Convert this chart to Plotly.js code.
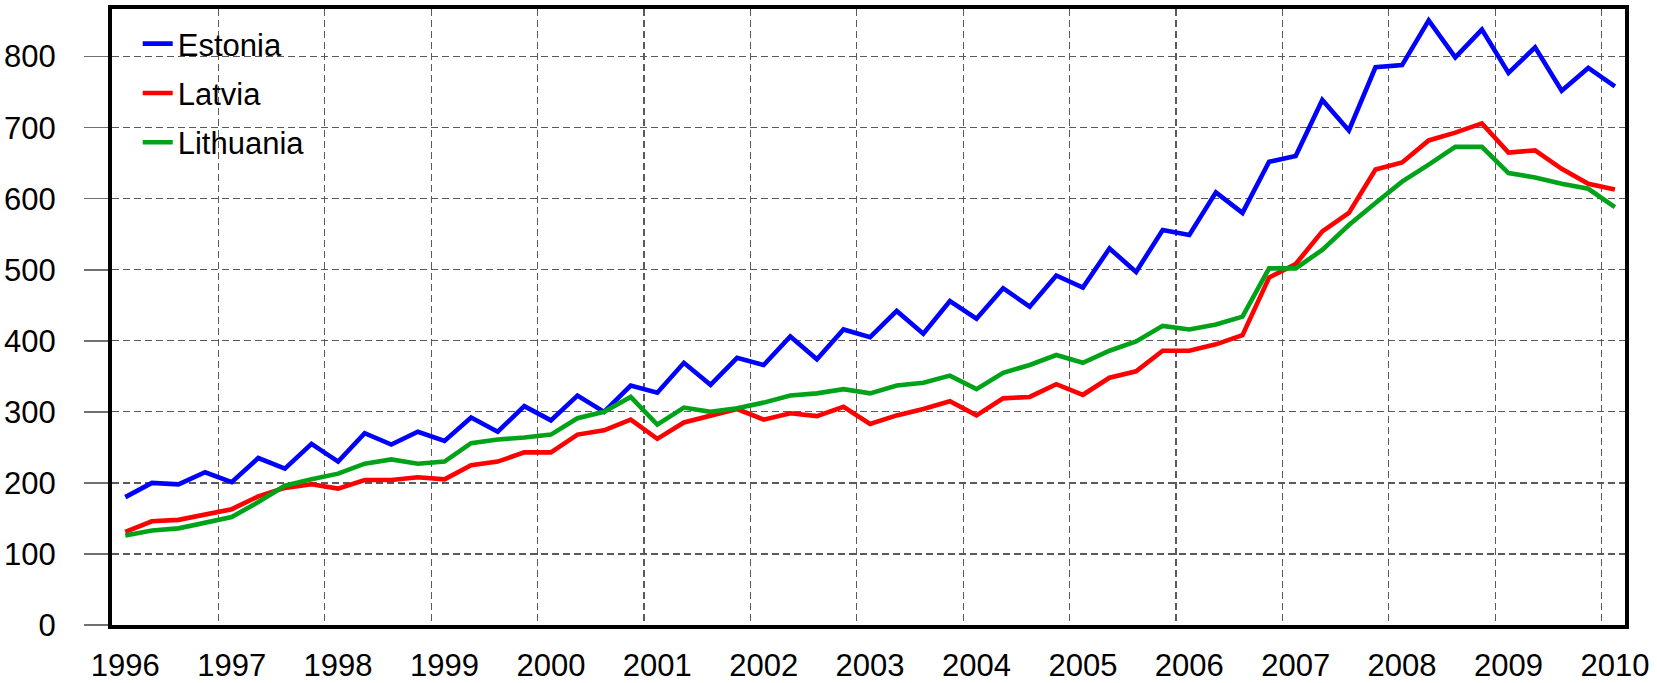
<!DOCTYPE html>
<html>
<head>
<meta charset="utf-8">
<script src="https://cdn.plot.ly/plotly-3.0.1.min.js"></script>
<style>
  html, body { margin: 0; padding: 0; background: #ffffff; }
  #chart { width: 1657px; height: 683px; }
</style>
</head>
<body>
<div id="chart"></div>
<script>
// Quarterly periods 1996 Q1 .. 2010 Q1
const periods = [
  "1996 Q1","1996 Q2","1996 Q3","1996 Q4",
  "1997 Q1","1997 Q2","1997 Q3","1997 Q4",
  "1998 Q1","1998 Q2","1998 Q3","1998 Q4",
  "1999 Q1","1999 Q2","1999 Q3","1999 Q4",
  "2000 Q1","2000 Q2","2000 Q3","2000 Q4",
  "2001 Q1","2001 Q2","2001 Q3","2001 Q4",
  "2002 Q1","2002 Q2","2002 Q3","2002 Q4",
  "2003 Q1","2003 Q2","2003 Q3","2003 Q4",
  "2004 Q1","2004 Q2","2004 Q3","2004 Q4",
  "2005 Q1","2005 Q2","2005 Q3","2005 Q4",
  "2006 Q1","2006 Q2","2006 Q3","2006 Q4",
  "2007 Q1","2007 Q2","2007 Q3","2007 Q4",
  "2008 Q1","2008 Q2","2008 Q3","2008 Q4",
  "2009 Q1","2009 Q2","2009 Q3","2009 Q4",
  "2010 Q1"
];

const estonia = [
  180,200,198,215, 201,235,220,255, 230,270,254,272,
  259,292,272,308, 288,323,300,337, 327,369,338,376,
  366,406,374,416, 405,442,410,456, 431,474,448,492,
  475,530,497,556, 549,609,580,652, 660,739,696,785,
  788,851,799,838, 777,813,752,784, 758
];

const latvia = [
  131,146,148,156, 163,181,193,198, 192,204,204,208,
  205,225,230,243, 243,268,274,289, 262,285,294,304,
  289,298,294,307, 283,295,304,315, 295,319,321,339,
  324,348,357,386, 386,395,408,489, 508,554,580,641,
  651,682,693,706, 665,668,642,621, 613
];

const lithuania = [
  126,133,136,144, 152,173,196,205, 213,227,233,227,
  230,256,261,264, 268,291,300,321, 282,306,300,305,
  313,323,326,332, 326,337,341,351, 332,355,366,380,
  369,386,399,421, 416,423,434,502, 502,528,563,594,
  624,648,673,673, 636,630,621,614, 588
];

const yearLabels = ["1996","1997","1998","1999","2000","2001","2002","2003",
                    "2004","2005","2006","2007","2008","2009","2010"];
const yTicks = [0,100,200,300,400,500,600,700,800];

// each quarter placed at its middle on a continuous year axis
function periodToX(p) {
  const parts = p.split(" Q");
  return Number(parts[0]) + (Number(parts[1]) - 0.5) / 4;
}
const xs = periods.map(periodToX);

const FONT = 'Arial, "Liberation Sans", sans-serif';
const FS = 31;
const GRID = '#5a5a5a';
const X_RANGE = [1996, 2010.22];

const traces = [
  {name: 'Estonia', y: estonia, color: '#0000FF'},
  {name: 'Latvia', y: latvia, color: '#FF0000'},
  {name: 'Lithuania', y: lithuania, color: '#00A318'}
].map(s => ({
  type: 'scatter', mode: 'lines', x: xs, y: s.y, name: s.name,
  legendgroup: s.name,
  line: {color: s.color, width: 4.6},
  hoverinfo: 'x+y+name'
}));

const layout = {
  width: 1657, height: 683,
  margin: {l: 112, r: 32, t: 9, b: 58, pad: 0},
  paper_bgcolor: '#ffffff', plot_bgcolor: '#ffffff',
  font: {family: FONT, size: FS, color: '#000000'},
  showlegend: true,
  legend: {
    x: 0.017, y: 0.987, xanchor: 'left', yanchor: 'top',
    bgcolor: 'rgba(0,0,0,0)', borderwidth: 0,
    font: {family: FONT, size: FS, color: '#000000'},
    traceorder: 'grouped', tracegroupgap: 6
  },
  xaxis: {
    type: 'linear', range: X_RANGE,
    tickmode: 'array', tickvals: yearLabels.map(Number),
    showticklabels: false, ticks: '',
    showgrid: true, gridcolor: GRID, gridwidth: 1.2, griddash: '7px,4px',
    zeroline: false,
    showline: true, linecolor: '#000000', linewidth: 4, mirror: true
  },
  xaxis2: {
    type: 'linear', range: X_RANGE, overlaying: 'x', side: 'bottom',
    tickmode: 'array',
    tickvals: yearLabels.map(v => Number(v) + 0.125),
    ticktext: yearLabels,
    ticks: '', showgrid: false, zeroline: false, showline: false,
    tickfont: {family: FONT, size: FS, color: '#000000'},
    ticklabelstandoff: 19
  },
  yaxis: {
    type: 'linear', range: [0, 867],
    tickmode: 'array', tickvals: yTicks,
    ticks: 'outside', ticklen: 24, tickwidth: 1.5, tickcolor: '#707070',
    showgrid: true, gridcolor: GRID, gridwidth: 1.2, griddash: '7px,4px',
    zeroline: false,
    showline: true, linecolor: '#000000', linewidth: 4, mirror: true,
    tickfont: {family: FONT, size: FS, color: '#000000'},
    ticklabelstandoff: 22
  }
};

// a blank trace bound to xaxis2 so the label axis is drawn
traces.push({type: 'scatter', mode: 'lines', x: [], y: [], xaxis: 'x2', yaxis: 'y',
             showlegend: false, hoverinfo: 'skip'});

Plotly.newPlot('chart', traces, layout, {displayModeBar: false, staticPlot: true});
</script>
</body>
</html>
